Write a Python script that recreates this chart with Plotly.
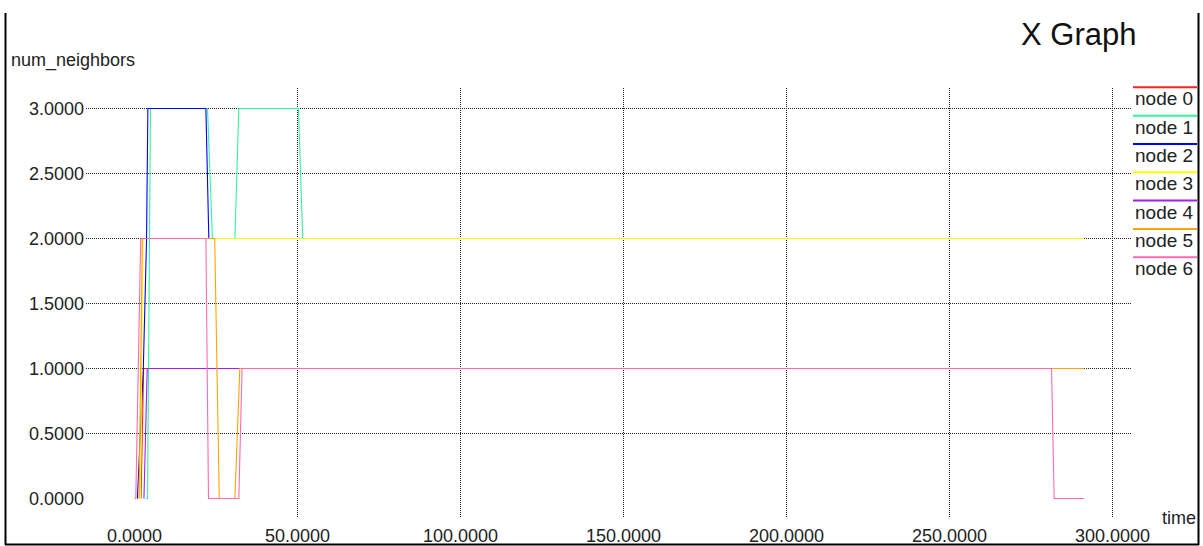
import plotly.graph_objects as go

# ---- data: neighbor count per node over simulation time ----
node_names = ["node 0", "node 1", "node 2", "node 3", "node 4", "node 5", "node 6"]
node_colors = ["#ff2020", "#2ef59a", "#0000ff", "#ffff00", "#a020f0", "#ffa500", "#ff69b4"]

node0_t = [2.0, 2.8, 291.3]
node0_v = [0, 1, 1]

node1_t = [3.4, 4.0, 4.9, 22.4, 23.9, 30.8, 32.0, 50.3, 51.6, 291.3]
node1_v = [0, 0, 3, 3, 2, 2, 3, 3, 2, 2]

node2_t = [0.9, 2.7, 3.7, 4.1, 21.9, 22.8, 291.3]
node2_v = [0, 1, 2, 3, 3, 2, 2]

node3_t = [1.8, 2.6, 291.3]
node3_v = [0, 2, 2]

node4_t = [2.9, 3.9, 291.3]
node4_v = [0, 1, 1]

node5_t = [1.4, 2.4, 24.6, 26.0, 30.8, 32.3, 291.3]
node5_v = [0, 2, 2, 0, 0, 1, 1]

node6_t = [0.0, 0.4, 1.9, 21.9, 22.7, 32.0, 33.0, 281.3, 282.1, 291.3]
node6_v = [0, 0, 2, 2, 0, 0, 1, 1, 0, 0]

x_ticks = [0, 50, 100, 150, 200, 250, 300]
y_ticks = [0, 0.5, 1.0, 1.5, 2.0, 2.5, 3.0]

series_t = [node0_t, node1_t, node2_t, node3_t, node4_t, node5_t, node6_t]
series_v = [node0_v, node1_v, node2_v, node3_v, node4_v, node5_v, node6_v]

FONT = "Liberation Sans, Arial, sans-serif"
W, H = 1203, 546
L, R, T, B = 86, 71, 87, 29
PW, PH = W - L - R, H - T - B

# axis ranges chosen so ticks fall on pixel centres (3.26 px per second, 130 px per neighbor)
X_RANGE = [(L - 134.5) / 3.26, (L + PW - 134.5) / 3.26]
Y_RANGE = [(498.5 - (T + PH)) / 130.0, (498.5 - T) / 130.0]


def px(x):
    return (x - L) / PW


def py(y):
    return (H - B - y) / PH


fig = go.Figure()
for name, color, t, v in zip(node_names, node_colors, series_t, series_v):
    fig.add_trace(go.Scatter(x=t, y=v, mode="lines", name=name,
                             line=dict(color=color, width=1.1), showlegend=False))

# dotted grid, skipping the zero lines
grid = dict(color="#222222", width=1, dash="1px,1px")
for xv in x_ticks:
    if xv != 0:
        fig.add_shape(type="line", xref="x", yref="paper", x0=xv, x1=xv, y0=0, y1=1,
                      line=grid, layer="below")
for yv in y_ticks:
    if yv != 0:
        fig.add_shape(type="line", xref="paper", yref="y", x0=0, x1=1, y0=yv, y1=yv,
                      line=grid, layer="below")

# window frame
frame = dict(color="black", width=2)
fig.add_shape(type="line", xref="paper", yref="paper", x0=px(5.5), x1=px(5.5), y0=py(13), y1=py(545), line=frame)
fig.add_shape(type="line", xref="paper", yref="paper", x0=px(1198.5), x1=px(1198.5), y0=py(13), y1=py(545), line=frame)
fig.add_shape(type="line", xref="paper", yref="paper", x0=px(5), x1=px(1199), y0=py(544.5), y1=py(544.5), line=frame)

# legend: colour bar above each label
for i, (name, color) in enumerate(zip(node_names, node_colors)):
    ly = 87.3 + 28.33 * i
    fig.add_shape(type="line", xref="paper", yref="paper", x0=px(1133), x1=px(1197),
                  y0=py(ly), y1=py(ly), line=dict(color=color, width=2))
    fig.add_annotation(xref="paper", yref="paper", x=px(1133), y=py(ly + 11.5), text=name,
                       showarrow=False, xanchor="left", yanchor="middle",
                       font=dict(family=FONT, size=19, color="#222222"))

fig.add_annotation(xref="paper", yref="paper", x=px(9), y=py(60), text="num_neighbors",
                   showarrow=False, xanchor="left", yanchor="middle",
                   font=dict(family=FONT, size=18, color="#222222"))
fig.add_annotation(xref="paper", yref="paper", x=px(1198), y=py(518), text="time",
                   showarrow=False, xanchor="right", yanchor="middle",
                   font=dict(family=FONT, size=18, color="#222222"))
fig.add_annotation(xref="paper", yref="paper", x=px(1019), y=py(35), text="X Graph",
                   showarrow=False, xanchor="left", yanchor="middle",
                   font=dict(family=FONT, size=31, color="#111111"))

fig.update_layout(
    width=W, height=H,
    margin=dict(l=L, r=R, t=T, b=B, pad=0, autoexpand=False),
    paper_bgcolor="white", plot_bgcolor="white",
    showlegend=False,
    xaxis=dict(range=X_RANGE, tickvals=x_ticks,
               ticktext=[f"{v:.4f}" for v in x_ticks],
               showgrid=False, zeroline=False, showline=False, ticks="",
               ticklabelstandoff=6, automargin=False,
               tickfont=dict(family=FONT, size=18, color="#222222")),
    yaxis=dict(range=Y_RANGE, tickvals=y_ticks,
               ticktext=[f"{v:.4f}" for v in y_ticks],
               showgrid=False, zeroline=False, showline=False, ticks="",
               ticklabelstandoff=1, automargin=False,
               tickfont=dict(family=FONT, size=18, color="#222222")),
)

fig.write_html("out.html", config={"displayModeBar": False})
